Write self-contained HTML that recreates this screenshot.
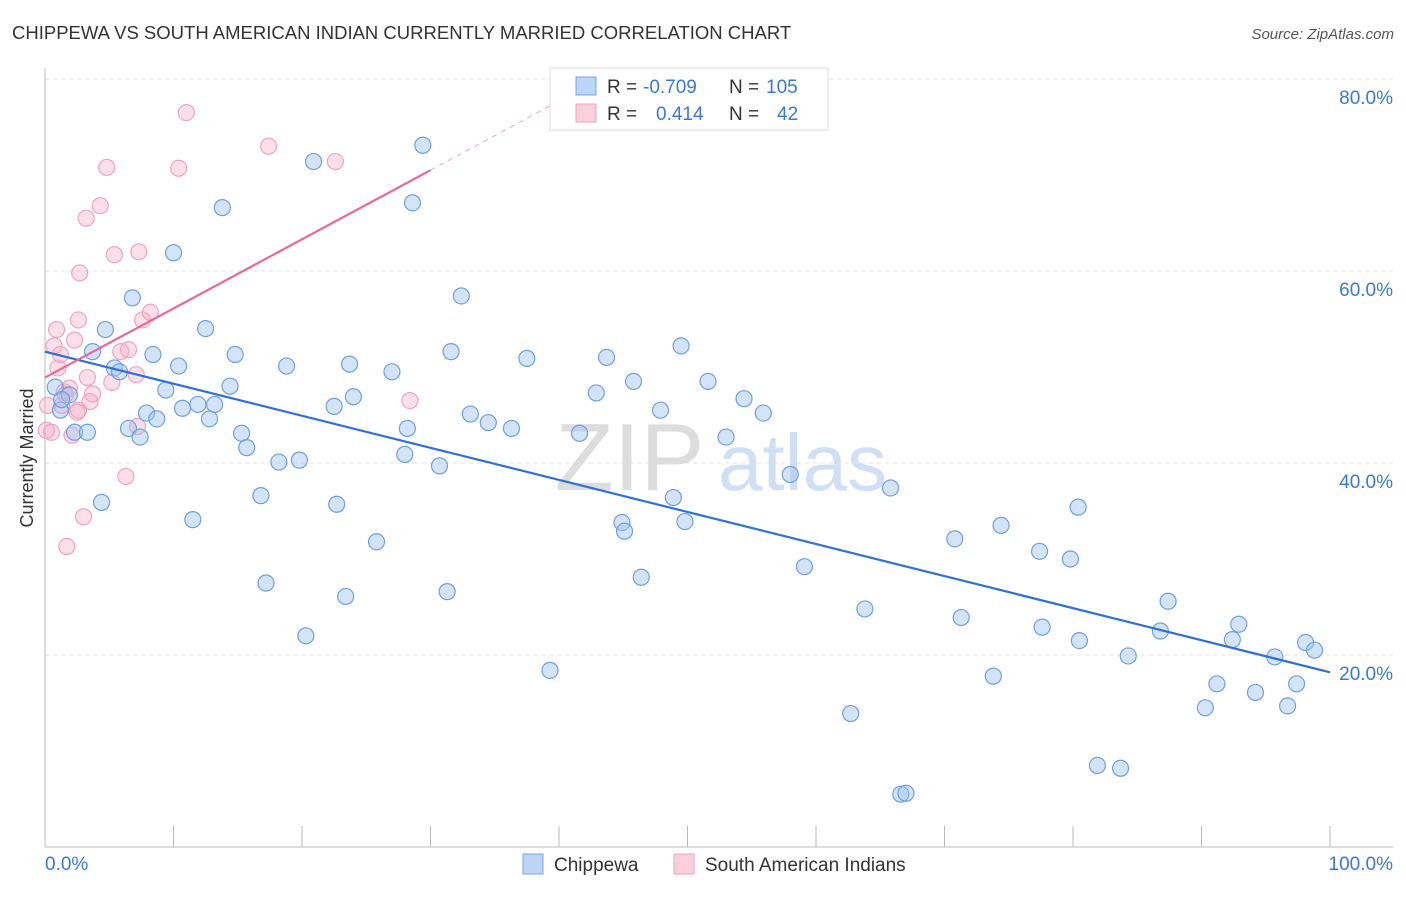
<!DOCTYPE html>
<html><head><meta charset="utf-8"><style>
body{margin:0;background:#fff;font-family:"Liberation Sans",sans-serif;}
svg text{font-family:"Liberation Sans",sans-serif;}
</style></head><body>
<svg id="chart" width="1406" height="892" xmlns="http://www.w3.org/2000/svg">
<text x="12" y="39" font-size="18.5" fill="#333">CHIPPEWA VS SOUTH AMERICAN INDIAN CURRENTLY MARRIED CORRELATION CHART</text>
<text x="1394" y="39" font-size="15" fill="#555" text-anchor="end" font-style="italic">Source: ZipAtlas.com</text>
<text x="555" y="490" font-size="96" fill="#ddd" font-family="Liberation Serif">ZIP</text>
<text x="718" y="490" font-size="80" fill="#cfe0f5">atlas</text>
<text transform="translate(33,458) rotate(-90)" font-size="18" fill="#333" text-anchor="middle">Currently Married</text>
<g id="grid"></g><g id="axes"></g><g id="pink"></g><g id="blue"></g><g id="lines"></g>
<g>
<rect x="550" y="68" width="278" height="62" fill="#fff" stroke="#ddd"/>
<rect x="576" y="77" width="20" height="18" fill="#bcd4f5" stroke="#7aa6e6"/>
<rect x="576" y="104" width="20" height="18" fill="#fbd0dd" stroke="#f0a0bb"/>
<text x="607" y="93" font-size="19" fill="#333">R =</text>
<text x="643" y="93" font-size="19" fill="#3a78d8">-0.709</text>
<text x="729" y="93" font-size="19" fill="#333">N =</text>
<text x="766" y="93" font-size="19" fill="#3a78d8">105</text>
<text x="607" y="120" font-size="19" fill="#333">R =</text>
<text x="656" y="120" font-size="19" fill="#3a78d8">0.414</text>
<text x="729" y="120" font-size="19" fill="#333">N =</text>
<text x="777" y="120" font-size="19" fill="#3a78d8">42</text>
</g>
<g>
<rect x="523" y="854" width="20" height="20" fill="#bcd4f5" stroke="#7aa6e6"/>
<text x="554" y="871" font-size="19" fill="#333">Chippewa</text>
<rect x="674" y="854" width="20" height="20" fill="#fbd0dd" stroke="#f0a0bb"/>
<text x="705" y="871" font-size="19" fill="#333">South American Indians</text>
</g>
</svg>
<script>
const blueX=[0.8,1.2,1.9,2.3,3.3,3.7,4.4,4.7,5.4,5.8,6.5,6.8,7.4,7.9,8.4,8.7,9.4,10.0,10.4,10.7,11.5,11.9,12.5,12.8,13.2,13.8,14.4,14.8,15.3,15.7,16.8,17.2,18.2,18.8,19.8,20.3,20.9,22.5,22.7,23.4,23.7,24.0,25.8,27.0,28.0,28.2,28.6,29.4,30.7,31.3,31.6,32.4,33.1,34.5,36.3,37.5,39.3,41.6,42.9,43.7,44.9,45.1,45.8,46.4,47.9,48.9,49.8,49.5,51.6,53.0,54.4,55.9,58.0,59.1,62.7,63.8,65.8,66.6,67.0,70.8,71.3,73.8,74.4,77.4,77.6,79.8,80.4,80.5,81.9,83.7,84.3,86.8,87.4,90.3,91.2,92.4,92.9,94.2,95.7,96.7,97.4,98.1,98.8,1.3];
const blueY=[47.9,45.5,47.1,43.2,43.2,51.6,35.9,53.9,49.9,49.5,43.6,57.2,42.7,45.2,51.3,44.6,47.6,61.9,50.1,45.7,34.1,46.1,54.0,44.6,46.1,66.6,48.0,51.3,43.1,41.6,36.6,27.5,40.1,50.1,40.3,22.0,71.4,45.9,35.7,26.1,50.3,46.9,31.8,49.5,40.9,43.6,67.1,73.1,39.7,26.6,51.6,57.4,45.1,44.2,43.6,50.9,18.4,43.1,47.3,51.0,33.8,32.9,48.5,28.1,45.5,36.4,33.9,52.2,48.5,42.7,46.7,45.2,38.8,29.2,13.9,24.8,37.4,5.5,5.6,32.1,23.9,17.8,33.5,30.8,22.9,30.0,35.4,21.5,8.5,8.2,19.9,22.5,25.6,14.5,17.0,21.6,23.2,16.1,19.8,14.7,17.0,21.3,20.5,46.6];
const pinkX=[0.2,0.5,0.7,0.9,1.0,1.2,1.3,1.5,1.7,1.9,2.1,2.3,2.5,2.6,2.7,3.0,3.2,3.3,3.5,3.7,4.3,4.8,5.4,5.2,5.9,6.3,6.5,7.1,7.2,7.3,7.6,8.2,10.4,11.0,17.4,22.6,28.4,0.1,1.6,2.6];
const pinkY=[46.0,43.2,52.2,53.9,49.9,51.3,46.0,47.4,31.3,47.8,42.9,52.8,45.3,54.9,59.8,34.4,65.5,48.9,46.4,47.2,66.8,70.8,61.7,48.4,51.6,38.6,51.8,49.2,43.8,62.0,54.9,55.7,70.7,76.5,73.0,71.4,46.5,43.4,47.1,45.5];
const yTicks=[20,40,60,80];
const xTickLabels=["0.0%","100.0%"];
const blueLine=[51.6,18.2];
const pinkLine=[48.9,70.5,30];
const NS="http://www.w3.org/2000/svg";
const sx=v=>45+v*12.85, sy=v=>847-v*9.6;
function mk(t,a,p){const e=document.createElementNS(NS,t);for(const k in a)e.setAttribute(k,a[k]);p.appendChild(e);return e;}
const grid=document.getElementById('grid'),axes=document.getElementById('axes');
yTicks.forEach(v=>{
 const l=mk('line',{x1:45,x2:1393,y1:sy(v),y2:sy(v),stroke:'#e0e0e0','stroke-dasharray':'4,4'},grid);
 
 
 const t=mk('text',{x:1393,y:sy(v)+25,'font-size':19,fill:'#3a78d8','text-anchor':'end'},grid);
 t.textContent=v.toFixed(1)+'%';
 
 
});
mk('line',{x1:45,x2:45,y1:68,y2:847,stroke:'#bbb'},axes);
mk('line',{x1:45,x2:1393,y1:847,y2:847,stroke:'#bbb'},axes);
for(let i=0;i<=10;i++){mk('line',{x1:sx(i*10),x2:sx(i*10),y1:826,y2:847,stroke:'#bbb'},axes);}
let t0=mk('text',{x:45,y:870,'font-size':19,fill:'#3a78d8'},axes);t0.textContent=xTickLabels[0];


let t1=mk('text',{x:1393,y:870,'font-size':19,fill:'#3a78d8','text-anchor':'end'},axes);t1.textContent=xTickLabels[1];


const pg=document.getElementById('pink'),bg=document.getElementById('blue'),lg=document.getElementById('lines');
pinkX.forEach((x,i)=>{const c=mk('circle',{cx:sx(x),cy:sy(pinkY[i]),r:8,fill:'rgba(246,175,200,0.4)',stroke:'#f0a3be','stroke-width':1.2},pg);
 
 });
blueX.forEach((x,i)=>{const c=mk('circle',{cx:sx(x),cy:sy(blueY[i]),r:8,fill:'rgba(160,195,240,0.45)',stroke:'#6f9fe0','stroke-width':1.2},bg);
 
 });
const bl=mk('line',{x1:sx(0),y1:sy(blueLine[0]),x2:sx(100),y2:sy(blueLine[1]),stroke:'#2f6fd8','stroke-width':2.2},lg);


const pl=mk('line',{x1:sx(0),y1:sy(pinkLine[0]),x2:sx(pinkLine[2]),y2:sy(pinkLine[1]),stroke:'#e8689a','stroke-width':2.2},lg);


const slope=(pinkLine[1]-pinkLine[0])/pinkLine[2];
const pd=mk('line',{x1:sx(pinkLine[2]),y1:sy(pinkLine[1]),x2:sx(40),y2:sy(pinkLine[0]+slope*40),stroke:'#f0a3be','stroke-width':1,'stroke-dasharray':'5,5'},lg);


</script>
</body></html>
